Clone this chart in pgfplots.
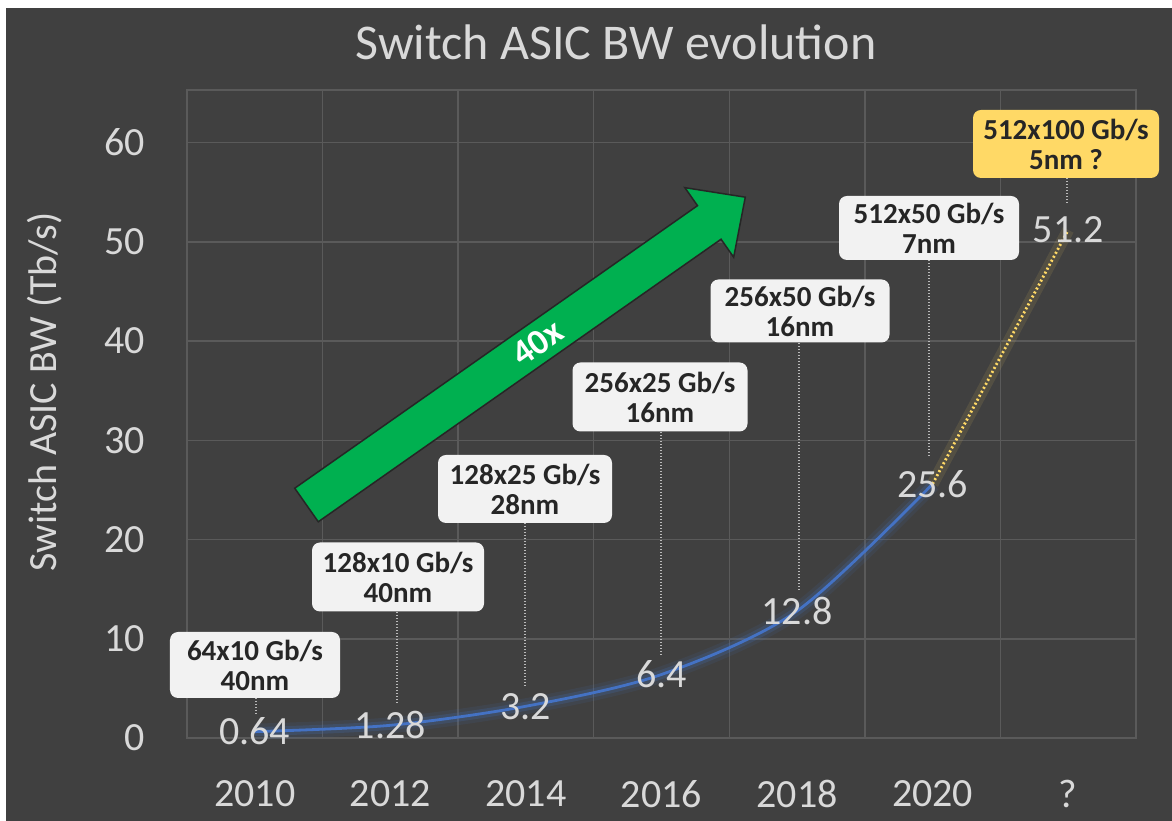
\documentclass[border=0pt]{standalone}
\usepackage{fontspec}
\setmainfont{Carlito}
\usepackage{pgfplots}
\pgfplotsset{compat=1.18}
\definecolor{bg}{HTML}{404040}
\definecolor{gridc}{HTML}{5A5A5A}
\definecolor{lbl}{HTML}{D9D9D9}
\definecolor{blueline}{HTML}{4472C4}
\definecolor{yel}{HTML}{FFD966}
\definecolor{boxc}{HTML}{F2F2F2}
\definecolor{boxtext}{HTML}{262626}
\definecolor{arrowgreen}{HTML}{00B050}
\tikzset{
  callout/.style={fill=boxc, rounded corners=8pt, align=center, inner sep=0pt,
    font=\bfseries\fontsize{29}{30}\selectfont, text=boxtext},
  leader/.style={draw=lbl!80!bg, line width=2pt, dash pattern=on 1.5pt off 1.5pt},
}
\begin{document}
\begin{tikzpicture}
\fill[white] (-187pt,-83pt) rectangle (985pt,738pt);
\fill[bg] (-181pt,-83pt) rectangle (985pt,730pt);
\begin{axis}[
  at={(0pt,0pt)}, anchor=south west,
  scale only axis, width=949pt, height=648pt,
  xmin=-0.5, xmax=6.5, ymin=0, ymax=65.3,
  xtick={0,...,6}, xticklabels={2010,2012,2014,2016,2018,2020,?},
  minor xtick={0.5,1.5,...,5.5},
  ytick={0,10,...,60},
  xminorgrids, ymajorgrids,
  grid style={gridc, line width=1.5pt},
  minor grid style={gridc, line width=1.5pt},
  major grid style={gridc, line width=1.5pt},
  axis line style={gridc, line width=1.5pt},
  major tick length=0pt, minor tick length=0pt,
  ticklabel style={font=\fontsize{40}{44}\selectfont, text=lbl},
  xticklabel style={anchor=north, inner sep=0pt, yshift=-42pt},
  yticklabel style={anchor=east, inner sep=0pt, xshift=-42pt},
  /pgf/number format/assume math mode=true,
  clip=false,
]
% glow of blue line
\addplot[blueline, line width=16pt, opacity=0.10, smooth] coordinates {(0,0.64) (1,1.28) (2,3.2) (3,6.4) (4,12.8) (5,25.6)};
\addplot[blueline, line width=9pt, opacity=0.20, smooth] coordinates {(0,0.64) (1,1.28) (2,3.2) (3,6.4) (4,12.8) (5,25.6)};
\addplot[blueline, line width=2.8pt, smooth] coordinates {(0,0.64) (1,1.28) (2,3.2) (3,6.4) (4,12.8) (5,25.6)};
% projection
\addplot[yel, line width=12pt, opacity=0.10] coordinates {(5,25.6) (6,51.2)};
\addplot[yel, line width=2.8pt, dash pattern=on 2pt off 2.5pt] coordinates {(5,25.6) (6,51.2)};
% data labels
\addplot[draw=none, mark=none, nodes near coords, point meta=explicit symbolic,
  nodes near coords style={anchor=center, inner sep=0pt, font=\fontsize{40}{44}\selectfont, text=lbl}]
  table[meta=lab] {
x y lab
0 0.64 0.64
1 1.28 1.28
2 3.2 3.2
3 6.4 6.4
4 12.8 12.8
5 25.6 25.6
6 51.2 51.2
};
\end{axis}
% leader lines
\draw[leader] (69pt,40pt) -- (69pt,23pt);
\draw[leader] (210pt,126pt) -- (210pt,35pt);
\draw[leader] (338pt,215pt) -- (338pt,50pt);
\draw[leader] (474pt,306pt) -- (474pt,81pt);
\draw[leader] (612pt,395pt) -- (612pt,148pt);
\draw[leader] (742pt,478pt) -- (742pt,281pt);
\draw[leader] (880pt,560pt) -- (880pt,535pt);
% callouts
\node[callout, minimum width=170pt, minimum height=66pt] at (68pt,73pt) {64x10 Gb/s\\40nm};
\node[callout, minimum width=172pt, minimum height=69pt] at (211pt,161pt) {128x10 Gb/s\\40nm};
\node[callout, minimum width=174pt, minimum height=68pt] at (338pt,249pt) {128x25 Gb/s\\28nm};
\node[callout, minimum width=175pt, minimum height=69pt] at (473pt,341pt) {256x25 Gb/s\\16nm};
\node[callout, minimum width=179pt, minimum height=63pt] at (613pt,427pt) {256x50 Gb/s\\16nm};
\node[callout, minimum width=180pt, minimum height=64pt] at (742pt,510pt) {512x50 Gb/s\\7nm};
\node[callout, fill=yel, minimum width=186pt, minimum height=68pt] at (879pt,594pt) {512x100 Gb/s\\5nm ?};
% green arrow
\begin{scope}[shift={(119.5pt,233pt)}, rotate=35.05]
\filldraw[fill=arrowgreen, draw=black!85, line width=1.5pt, line join=miter]
  (0pt,-20.5pt) -- (492pt,-20.5pt) -- (492pt,-42.5pt) -- (536pt,0pt) -- (492pt,42.5pt) -- (492pt,20.5pt) -- (0pt,20.5pt) -- cycle;
\node[text=white, font=\bfseries\fontsize{36}{40}\selectfont, rotate=35.05] at (282pt,0pt) {40x};
\end{scope}
% title and y label
\node[text=lbl, font=\fontsize{50}{56}\selectfont] at (429pt,696pt) {Switch ASIC BW evolution};
\node[text=lbl, font=\fontsize{40}{44}\selectfont, rotate=90] at (-142pt,346pt) {Switch ASIC BW (Tb/s)};
\pgfresetboundingbox
\path (-187pt,-83pt) rectangle (985pt,738pt);
\end{tikzpicture}
\end{document}
